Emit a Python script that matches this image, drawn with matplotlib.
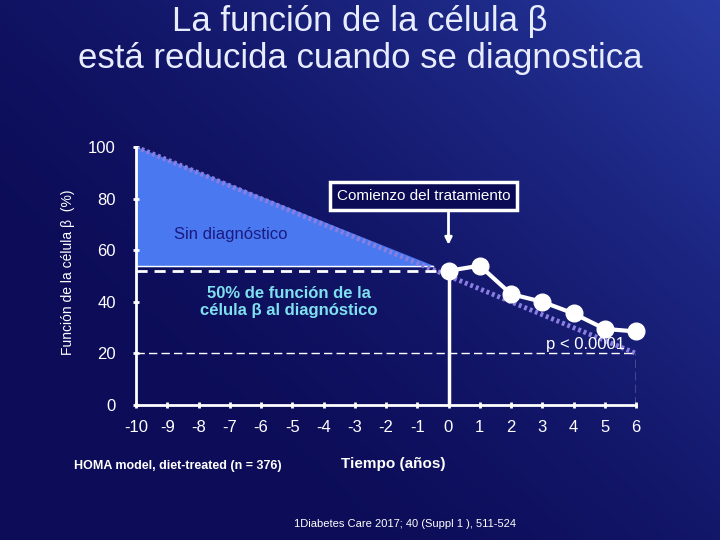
import matplotlib
matplotlib.use("Agg")
import matplotlib.pyplot as plt
import numpy as np

plt.rcParams['axes.unicode_minus'] = False

years = [0, 1, 2, 3, 4, 5, 6]
beta_function = [52, 54, 43, 40, 35.5, 29.5, 28.5]
trend_x = [-10, 6.4]
trend_y = [100, 18]
xticks = list(range(-10, 7))
yticks = [0, 20, 40, 60, 80, 100]

fig = plt.figure(figsize=(7.2, 5.4), dpi=100)
bg = fig.add_axes([0, 0, 1, 1])
yy, xx = np.mgrid[0:1:270j, 0:1:360j]
g = np.clip(0.6 * xx + 0.5 * (1 - yy) - 0.3, 0, 1)
c0 = np.array([0.05, 0.05, 0.35]); c1 = np.array([0.2, 0.3, 0.75])
img = c0 + (c1 - c0) * g[..., None] ** 1.5
bg.imshow(img, aspect='auto', extent=[0, 1, 0, 1], origin='upper')
bg.axis('off')

fig.text(0.5, 0.99, "La función de la célula β\nestá reducida cuando se diagnostica",
         ha='center', va='top', color='#e8ecff', fontsize=25, family='Liberation Sans', linespacing=1.15)

ax = fig.add_axes([136/720, 1-405/540, 500/720, 258/540])
ax.set_facecolor('none')
ax.set_xlim(-10, 6); ax.set_ylim(0, 100)
for s in ['top', 'right']:
    ax.spines[s].set_visible(False)
for s in ['left', 'bottom']:
    ax.spines[s].set_color('white'); ax.spines[s].set_linewidth(2)
ax.set_xticks(xticks); ax.set_yticks(yticks)
ax.tick_params(colors='white', labelsize=12, width=2, length=5, direction='inout')
for lab in ax.get_xticklabels() + ax.get_yticklabels():
    lab.set_family('Liberation Sans')
ax.tick_params(axis='x', pad=8)
ax.tick_params(axis='y', pad=12)

ax.fill([-10, -10, -0.5], [100, 54, 54], color='#4a78f0', zorder=1)
ax.plot([-10, -0.5], [54, 54], color='white', lw=1, zorder=2)
ax.plot(trend_x, trend_y, color='#8a7ee0', lw=3.5, ls=(0, (0.6, 0.6)), zorder=2)
ax.plot([-10, 0], [52, 52], color='white', lw=2, ls=(0, (4, 2.5)), zorder=3)
ax.plot([-10, 6], [20, 20], color='white', lw=1, ls=(0, (6, 3)), zorder=3)
ax.plot([6, 6], [0, 20], color='white', lw=1, ls=(0, (6, 3)), zorder=3)
ax.plot([0, 0], [0, 52], color='white', lw=2.5, zorder=3)
ax.plot(years, beta_function, color='white', lw=3, marker='o', ms=12, zorder=4, clip_on=False)

ax.annotate('', xy=(0, 61), xytext=(0, 81), arrowprops=dict(arrowstyle='-|>', color='white', lw=2), zorder=5)
ax.text(-0.8, 81, "Comienzo del tratamiento", ha='center', va='center', color='white', fontsize=11,
        family='Liberation Sans', zorder=6,
        bbox=dict(boxstyle='square,pad=0.45', fc='#0a0a55', ec='white', lw=2.5))
ax.text(-8.8, 66, "Sin diagnóstico", color='#1a1a80', fontsize=12, family='Liberation Sans', va='center')
ax.text(-5.1, 40, "50% de función de la\ncélula β al diagnóstico", color='#7fe0f0', fontsize=12,
        family='Liberation Sans', fontweight='bold', ha='center', va='center')
ax.text(4.4, 23.5, "p < 0.0001", color='white', fontsize=12, family='Liberation Sans', ha='center', va='center')

fig.text(68/720, 1-272/540, "Función de la célula β  (%)", rotation=90, color='white', fontsize=10,
         family='Liberation Sans', ha='center', va='center')
fig.text(178/720, 1-466/540, "HOMA model, diet-treated (n = 376)", color='white', fontsize=9,
         family='Liberation Sans', fontweight='bold', ha='center', va='center')
fig.text(393/720, 1-464/540, "Tiempo (años)", color='white', fontsize=11,
         family='Liberation Sans', fontweight='bold', ha='center', va='center')
fig.text(405/720, 1-524/540, "1Diabetes Care 2017; 40 (Suppl 1 ), 511-524", color='white', fontsize=8,
         family='Liberation Sans', ha='center', va='center')

fig.savefig("out.png", dpi=100)
